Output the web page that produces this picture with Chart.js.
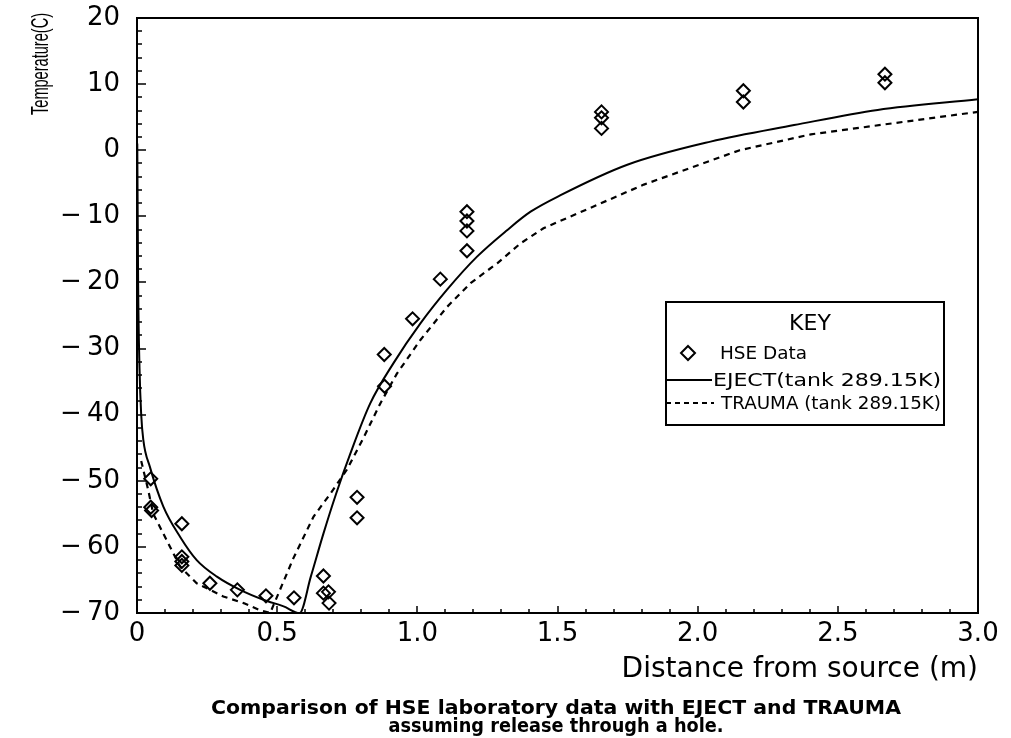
<!DOCTYPE html>
<html>
<head>
<meta charset="utf-8">
<script src="https://cdn.jsdelivr.net/npm/chart.js@4/dist/chart.umd.min.js"></script>
<style>
  html, body { margin: 0; padding: 0; background: #fff; }
  #wrap { width: 1011px; height: 738px; }
</style>
</head>
<body>
<div id="wrap"><canvas id="c" width="1011" height="738"></canvas></div>
<script>
// Tick labels
const xTickValues = [0, 0.5, 1.0, 1.5, 2.0, 2.5, 3.0];
const xTickLabels = ['0', '0.5', '1.0', '1.5', '2.0', '2.5', '3.0'];
const yTickValues = [-70, -60, -50, -40, -30, -20, -10, 0, 10, 20];

// HSE laboratory measurements: distance (m), temperature (C)
const hseX = [0.049, 0.049, 0.052, 0.16, 0.16, 0.16, 0.16, 0.26, 0.358, 0.46, 0.56,
              0.665, 0.665, 0.683, 0.685, 0.785, 0.785, 0.882, 0.883, 0.983, 1.082,
              1.177, 1.177, 1.177, 1.177, 1.657, 1.657, 1.657, 2.163, 2.163, 2.668, 2.668];
const hseY = [-49.7, -54.0, -54.5, -56.5, -61.5, -62.2, -62.8, -65.5, -66.5, -67.4, -67.7,
              -64.4, -67.0, -66.8, -68.5, -52.5, -55.6, -30.9, -35.7, -25.5, -19.5,
              -15.2, -12.2, -10.7, -9.3, 5.8, 4.9, 3.3, 9.0, 7.3, 11.5, 10.2];

// EJECT prediction (tank 289.15K)
const ejectX = [0.001, 0.004, 0.009, 0.015, 0.0225, 0.046, 0.094, 0.154, 0.213, 0.285, 0.368,
                0.451, 0.523, 0.58, 0.62, 0.665, 0.71, 0.76, 0.832, 0.915, 1.011, 1.106,
                1.213, 1.32, 1.404, 1.511, 1.749, 2.046, 2.344, 2.642, 3.0];
const ejectY = [1, -20, -33, -40, -43.8, -47.9, -53.9, -58.5, -62, -64.5, -66.5,
                -68, -69, -70, -64.5, -58, -52, -46, -38.3, -32.2, -26.2, -21.1,
                -16.1, -12.1, -9.3, -6.8, -2.2, 1.3, 3.8, 6.1, 7.7];

// TRAUMA prediction (tank 289.15K)
const traumaX = [0.015, 0.04, 0.058, 0.106, 0.154, 0.213, 0.308, 0.38, 0.44, 0.475, 0.52,
                 0.558, 0.63, 0.689, 0.749, 0.808, 0.868, 0.927, 1.011, 1.106, 1.19, 1.285,
                 1.368, 1.45, 1.808, 2.15, 2.404, 2.701, 3.0];
const traumaY = [-47, -51.4, -55, -59, -63, -65.5, -67.5, -68.5, -69.6, -70, -65.5,
                 -61.7, -55.4, -52, -48.3, -43.5, -38.3, -33.8, -28.7, -23.7, -20.1, -17.1,
                 -14.1, -11.8, -5.2, 0, 2.4, 4.1, 5.8];

const zip = (xs, ys) => xs.map((x, i) => ({ x: x, y: ys[i] }));

const FONT = "'DejaVu Sans', 'Liberation Sans', sans-serif";
const ARIAL = "'Liberation Sans', 'DejaVu Sans', sans-serif";

// draws text squeezed or stretched horizontally to a given width
function fitText(ctx, text, x, y, width, align) {
  const w = ctx.measureText(text).width;
  const sx = width / w;
  ctx.save();
  ctx.translate(x, y);
  ctx.scale(sx, 1);
  ctx.textAlign = align;
  ctx.fillText(text, 0, 0);
  ctx.restore();
}

// Frame, inward tick marks, axis name, key box and caption
const decorations = {
  id: 'decorations',
  afterDraw(chart) {
    const ctx = chart.ctx;
    const a = chart.chartArea;
    const xs = chart.scales.x, ys = chart.scales.y;
    ctx.save();
    ctx.strokeStyle = '#000';
    ctx.fillStyle = '#000';

    // plot frame
    ctx.lineWidth = 2;
    ctx.strokeRect(a.left, a.top, a.right - a.left, a.bottom - a.top);

    // ticks pointing into the plot
    ctx.lineWidth = 1.5;
    ctx.beginPath();
    for (let i = 0; i <= 30; i++) {
      const px = Math.round(xs.getPixelForValue(i / 10));
      const len = (i % 5 === 0) ? 7 : 4;
      ctx.moveTo(px, a.bottom);
      ctx.lineTo(px, a.bottom - len);
    }
    for (let v = -70; v <= 20; v += 2) {
      const py = Math.round(ys.getPixelForValue(v));
      const len = (v % 10 === 0) ? 9 : 5;
      ctx.moveTo(a.left, py);
      ctx.lineTo(a.left + len, py);
    }
    ctx.stroke();

    // vertical axis name, reading upwards, ending at the top of the frame
    ctx.save();
    ctx.translate(41, 64);
    ctx.rotate(-Math.PI / 2);
    ctx.font = '24px ' + ARIAL;
    ctx.textBaseline = 'middle';
    fitText(ctx, 'Temperature(C)', 0, 0, 102, 'center');
    ctx.restore();

    // key box
    const bx = 666, by = 302, bw = 278, bh = 123;
    ctx.fillStyle = '#fff';
    ctx.fillRect(bx, by, bw, bh);
    ctx.lineWidth = 2;
    ctx.strokeRect(bx, by, bw, bh);
    ctx.fillStyle = '#000';
    ctx.textBaseline = 'middle';
    ctx.textAlign = 'center';
    ctx.font = '22px ' + FONT;
    ctx.fillText('KEY', 810, 324);

    ctx.font = '18px ' + FONT;
    // diamond symbol
    ctx.lineWidth = 2;
    ctx.beginPath();
    ctx.moveTo(688, 346); ctx.lineTo(695, 353); ctx.lineTo(688, 360); ctx.lineTo(681, 353);
    ctx.closePath();
    ctx.stroke();
    fitText(ctx, 'HSE Data', 720, 354, 87, 'left');

    // solid sample
    ctx.lineWidth = 2;
    ctx.beginPath();
    ctx.moveTo(bx, 380); ctx.lineTo(712, 380);
    ctx.stroke();
    fitText(ctx, 'EJECT(tank 289.15K)', 713, 381, 228, 'left');

    // dashed sample
    ctx.setLineDash([5, 4]);
    ctx.beginPath();
    ctx.moveTo(bx, 403); ctx.lineTo(714, 403);
    ctx.stroke();
    ctx.setLineDash([]);
    fitText(ctx, 'TRAUMA (tank 289.15K)', 721, 404, 220, 'left');

    // caption
    ctx.font = 'bold 19px ' + FONT;
    fitText(ctx, 'Comparison of HSE laboratory data with EJECT and TRAUMA', 556, 709, 690, 'center');
    fitText(ctx, 'assuming release through a hole.', 556, 727, 335, 'center');
    ctx.restore();
  }
};

new Chart(document.getElementById('c'), {
  type: 'scatter',
  data: {
    datasets: [
      {
        label: 'HSE Data',
        data: zip(hseX, hseY),
        showLine: false,
        pointStyle: 'rectRot',
        pointRadius: 6.5,
        pointBorderWidth: 2,
        pointBorderColor: '#000',
        pointBackgroundColor: 'rgba(0,0,0,0)'
      },
      {
        label: 'EJECT(tank 289.15K)',
        data: zip(ejectX, ejectY),
        showLine: true,
        borderColor: '#000',
        borderWidth: 2,
        pointRadius: 0,
        cubicInterpolationMode: 'monotone',
        fill: false
      },
      {
        label: 'TRAUMA (tank 289.15K)',
        data: zip(traumaX, traumaY),
        showLine: true,
        borderColor: '#000',
        borderWidth: 2.2,
        borderDash: [6, 5],
        pointRadius: 0,
        tension: 0,
        fill: false
      }
    ]
  },
  options: {
    responsive: false,
    devicePixelRatio: 1,
    animation: false,
    layout: { padding: { left: 0, top: 18, right: 33, bottom: 41 } },
    plugins: {
      legend: { display: false },
      tooltip: { enabled: false },
      title: { display: false }
    },
    scales: {
      x: {
        type: 'linear',
        position: 'bottom',
        min: 0,
        max: 3,
        afterBuildTicks: s => { s.ticks = xTickValues.map(v => ({ value: v })); },
        afterFit: s => { s.height = 84; s.paddingLeft = 0; s.paddingRight = 0; },
        grid: { display: false, drawTicks: false },
        border: { display: false },
        ticks: {
          color: '#000',
          font: { family: FONT, size: 26 },
          padding: 6,
          maxRotation: 0,
          autoSkip: false,
          callback: (v, i) => xTickLabels[i]
        },
        title: {
          display: true,
          text: 'Distance from source (m)',
          align: 'end',
          color: '#000',
          font: { family: FONT, size: 28 },
          padding: { top: 0, bottom: 10 }
        }
      },
      y: {
        type: 'linear',
        position: 'left',
        min: -70,
        max: 20,
        afterBuildTicks: s => { s.ticks = yTickValues.map(v => ({ value: v })); },
        afterFit: s => { s.width = 137; s.paddingTop = 0; s.paddingBottom = 0; },
        grid: { display: false, drawTicks: false },
        border: { display: false },
        ticks: {
          color: '#000',
          font: { family: FONT, size: 26 },
          padding: 17,
          autoSkip: false,
          callback: v => v < 0 ? '\u2212\u2009' + (-v) : String(v)
        },
        title: { display: false }
      }
    }
  },
  plugins: [decorations]
});
</script>
</body>
</html>
